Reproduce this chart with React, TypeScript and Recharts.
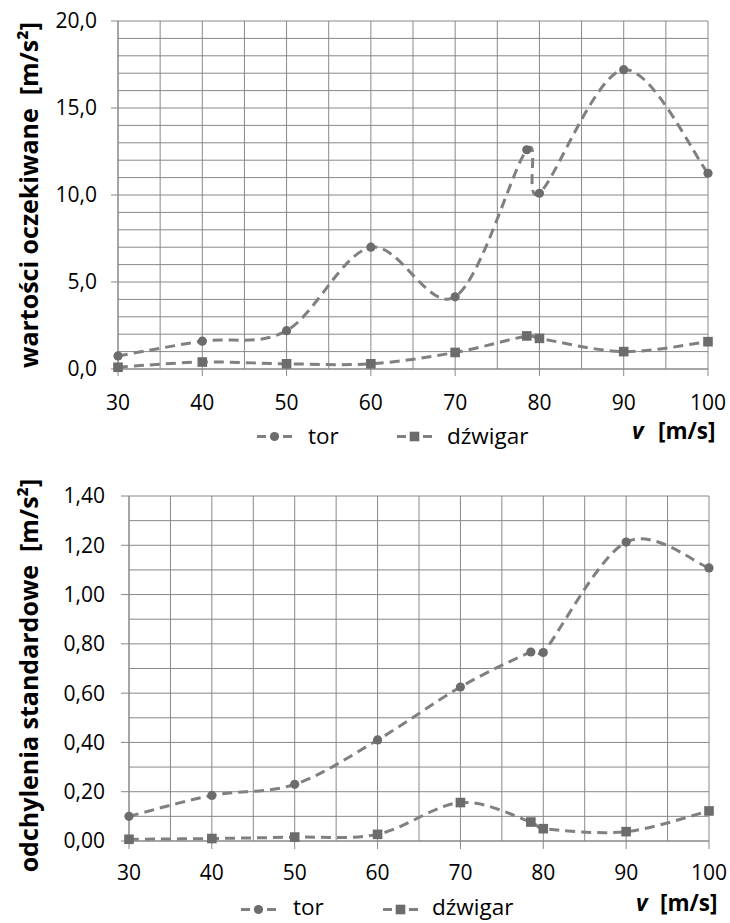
import React from 'react';
import { LineChart, Line, XAxis, YAxis, CartesianGrid } from 'recharts';

// ---------- data ----------
const speeds = [30, 40, 50, 60, 70, 78.5, 80, 90, 100];
const torMean = [0.75, 1.6, 2.2, 7.0, 4.15, 12.6, 10.1, 17.2, 11.25];
const girderMean = [0.1, 0.4, 0.3, 0.3, 0.95, 1.9, 1.76, 1.0, 1.57];
const torStd = [0.1, 0.185, 0.23, 0.41, 0.625, 0.767, 0.765, 1.213, 1.108];
const girderStd = [0.007, 0.01, 0.016, 0.027, 0.156, 0.077, 0.05, 0.038, 0.122];

const xTicks = [30, 40, 50, 60, 70, 80, 90, 100];
const xGrid = [30, 35, 40, 45, 50, 55, 60, 65, 70, 75, 80, 85, 90, 95, 100];
const meanTicks = [0, 5, 10, 15, 20];
const meanGrid = [0, 1, 2, 3, 4, 5, 6, 7, 8, 9, 10, 11, 12, 13, 14, 15, 16, 17, 18, 19, 20];
const stdTicks = [0, 0.2, 0.4, 0.6, 0.8, 1.0, 1.2, 1.4];
const stdGrid = [0, 0.1, 0.2, 0.3, 0.4, 0.5, 0.6, 0.7, 0.8, 0.9, 1.0, 1.1, 1.2, 1.3, 1.4];

const meanTitle = 'wartości oczekiwane  [m/s²]';
const stdTitle = 'odchylenia standardowe  [m/s²]';
const torLabel = 'tor';
const girderLabel = 'dźwigar';

const meanData = speeds.map((v, i) => ({ v, tor: torMean[i], dzwigar: girderMean[i] }));
const stdData = speeds.map((v, i) => ({ v, tor: torStd[i], dzwigar: girderStd[i] }));

// ---------- style ----------
const FONT = '"Open Sans", sans-serif';
const LINE = '#808080';
const GRID = '#888888';
const MARK = '#6c6c6c';

// Excel-like smoothing (Bezier, tension 1/6, arms capped at half segment)
function excelSmooth(context: any) {
  let pts: number[][] = [];
  const dist = (a: number[], b: number[]) => Math.hypot(a[0] - b[0], a[1] - b[1]);
  return {
    areaStart() {},
    areaEnd() {},
    lineStart() {
      pts = [];
    },
    lineEnd() {
      const n = pts.length;
      if (!n) return;
      context.moveTo(pts[0][0], pts[0][1]);
      for (let i = 0; i < n - 1; i++) {
        const p0 = pts[i > 0 ? i - 1 : i];
        const p1 = pts[i];
        const p2 = pts[i + 1];
        const p3 = pts[i + 2 < n ? i + 2 : i + 1];
        const d12 = dist(p1, p2);
        const d02 = dist(p0, p2);
        const d13 = dist(p1, p3);
        let f1 = 1 / 6;
        let f2 = 1 / 6;
        if (d02 > 0 && d02 / 6 > d12 / 2) f1 = d12 / (2 * d02);
        if (d13 > 0 && d13 / 6 > d12 / 2) f2 = d12 / (2 * d13);
        context.bezierCurveTo(
          p1[0] + (p2[0] - p0[0]) * f1,
          p1[1] + (p2[1] - p0[1]) * f1,
          p2[0] - (p3[0] - p1[0]) * f2,
          p2[1] - (p3[1] - p1[1]) * f2,
          p2[0],
          p2[1]
        );
      }
    },
    point(x: number, y: number) {
      pts.push([+x, +y]);
    },
  };
}

const circleDot = (p: any) => (
  <circle key={`c-${p.index}`} cx={p.cx} cy={p.cy} r={4.6} fill={MARK} />
);
const squareDot = (p: any) => (
  <rect key={`s-${p.index}`} x={p.cx - 4.8} y={p.cy - 4.8} width={9.6} height={9.6} fill={MARK} />
);

const makeTitle = (text: string, dx: number, dy: number) => (props: any) => {
  const vb = props.viewBox || {};
  const x = (vb.x || 0) + dx;
  const y = (vb.y || 0) + (vb.height || 0) / 2 + dy;
  return (
    <text
      x={x}
      y={y}
      transform={`rotate(-90, ${x}, ${y})`}
      textAnchor="middle"
      dominantBaseline="central"
      style={{ whiteSpace: 'pre', fontFamily: FONT, fontWeight: 700, fontSize: 25, fill: '#000' }}
    >
      {text}
    </text>
  );
};

const tickStyle = { fontFamily: FONT, fontSize: 21, fill: '#000' };

function LegendSymbol({ x, y, kind }: { x: number; y: number; kind: 'circle' | 'square' }) {
  return (
    <g>
      <line x1={x} y1={y} x2={x + 9} y2={y} stroke={LINE} strokeWidth={3} />
      <line x1={x + 26} y1={y} x2={x + 35} y2={y} stroke={LINE} strokeWidth={3} />
      {kind === 'circle' ? (
        <circle cx={x + 17.5} cy={y} r={4.6} fill={MARK} />
      ) : (
        <rect x={x + 12.7} y={y - 4.8} width={9.6} height={9.6} fill={MARK} />
      )}
    </g>
  );
}

function LegendRow({
  symY, textY, vY, torX, torTextX, girX, girTextX, vX, unitX,
}: any) {
  const ts = { fontFamily: FONT, fontSize: 22.5, fill: '#000' };
  return (
    <g>
      <LegendSymbol x={torX} y={symY} kind="circle" />
      <text x={torTextX} y={textY} style={ts}>{torLabel}</text>
      <LegendSymbol x={girX} y={symY} kind="square" />
      <text x={girTextX} y={textY} style={ts}>{girderLabel}</text>
      <text x={vX} y={vY} style={{ ...ts, fontWeight: 700, fontStyle: 'italic' }}>v</text>
      <text x={unitX} y={vY} style={{ ...ts, fontWeight: 700 }}>[m/s]</text>
    </g>
  );
}

function MeanChart() {
  return (
    <LineChart
      width={730}
      height={460}
      data={meanData}
      margin={{ top: 21, right: 22, bottom: 61, left: 0 }}
    >
      <XAxis xAxisId="g" dataKey="v" type="number" domain={[30, 100]} ticks={xGrid} hide />
      <YAxis yAxisId="g" dataKey="tor" type="number" domain={[0, 20]} ticks={meanGrid} interval={0} allowDataOverflow hide />
      <CartesianGrid xAxisId="g" yAxisId="g" stroke={GRID} strokeWidth={1} />
      <XAxis
        dataKey="v"
        type="number"
        domain={[30, 100]}
        ticks={xTicks}
        interval={0}
        height={30}
        tickSize={7}
        tickMargin={19}
        axisLine={{ stroke: GRID }}
        tickLine={{ stroke: GRID }}
        tick={tickStyle}
      />
      <YAxis
        type="number"
        domain={[0, 20]}
        ticks={meanTicks}
        interval={0}
        width={118}
        tickSize={7}
        tickMargin={14}
        axisLine={{ stroke: GRID }}
        tickLine={{ stroke: GRID }}
        tick={tickStyle}
        tickFormatter={(v: number) => v.toFixed(1).replace('.', ',')}
        label={makeTitle(meanTitle, 28, 0)}
      />
      <Line
        dataKey="tor"
        type={excelSmooth as any}
        stroke={LINE}
        strokeWidth={3}
        strokeDasharray="10 6"
        dot={circleDot}
        activeDot={false}
        isAnimationActive={false}
      />
      <Line
        dataKey="dzwigar"
        type={excelSmooth as any}
        stroke={LINE}
        strokeWidth={3}
        strokeDasharray="10 6"
        dot={squareDot}
        activeDot={false}
        isAnimationActive={false}
      />
    </LineChart>
  );
}

function StdChart() {
  return (
    <LineChart
      width={730}
      height={458}
      data={stdData}
      margin={{ top: 31, right: 21, bottom: 52, left: 0 }}
    >
      <XAxis xAxisId="g" dataKey="v" type="number" domain={[30, 100]} ticks={xGrid} hide />
      <YAxis yAxisId="g" dataKey="tor" type="number" domain={[0, 1.4]} ticks={stdGrid} interval={0} allowDataOverflow hide />
      <CartesianGrid xAxisId="g" yAxisId="g" stroke={GRID} strokeWidth={1} />
      <XAxis
        dataKey="v"
        type="number"
        domain={[30, 100]}
        ticks={xTicks}
        interval={0}
        height={30}
        tickSize={8}
        tickMargin={16}
        axisLine={{ stroke: GRID }}
        tickLine={{ stroke: GRID }}
        tick={tickStyle}
      />
      <YAxis
        type="number"
        domain={[0, 1.4]}
        ticks={stdTicks}
        interval={0}
        width={129}
        tickSize={8}
        tickMargin={16}
        axisLine={{ stroke: GRID }}
        tickLine={{ stroke: GRID }}
        tick={tickStyle}
        tickFormatter={(v: number) => v.toFixed(2).replace('.', ',')}
        label={makeTitle(stdTitle, 28, 7)}
      />
      <Line
        dataKey="tor"
        type={excelSmooth as any}
        stroke={LINE}
        strokeWidth={3}
        strokeDasharray="10 6"
        dot={circleDot}
        activeDot={false}
        isAnimationActive={false}
      />
      <Line
        dataKey="dzwigar"
        type={excelSmooth as any}
        stroke={LINE}
        strokeWidth={3}
        strokeDasharray="10 6"
        dot={squareDot}
        activeDot={false}
        isAnimationActive={false}
      />
    </LineChart>
  );
}

export default function App() {
  return (
    <div style={{ position: 'absolute', left: 0, top: 0, width: 730, height: 923, background: '#fff', overflow: 'hidden' }}>
      <div style={{ position: 'absolute', left: 0, top: 0 }}>
        <MeanChart />
      </div>
      <div style={{ position: 'absolute', left: 0, top: 465 }}>
        <StdChart />
      </div>
      <svg width={730} height={923} style={{ position: 'absolute', left: 0, top: 0, pointerEvents: 'none' }}>
        <LegendRow symY={436.5} textY={444} vY={439} torX={257} torTextX={308} girX={397} girTextX={447} vX={632} unitX={658} />
        <LegendRow symY={909.5} textY={915} vY={911} torX={241} torTextX={293} girX={383} girTextX={432} vX={636} unitX={660} />
      </svg>
    </div>
  );
}
